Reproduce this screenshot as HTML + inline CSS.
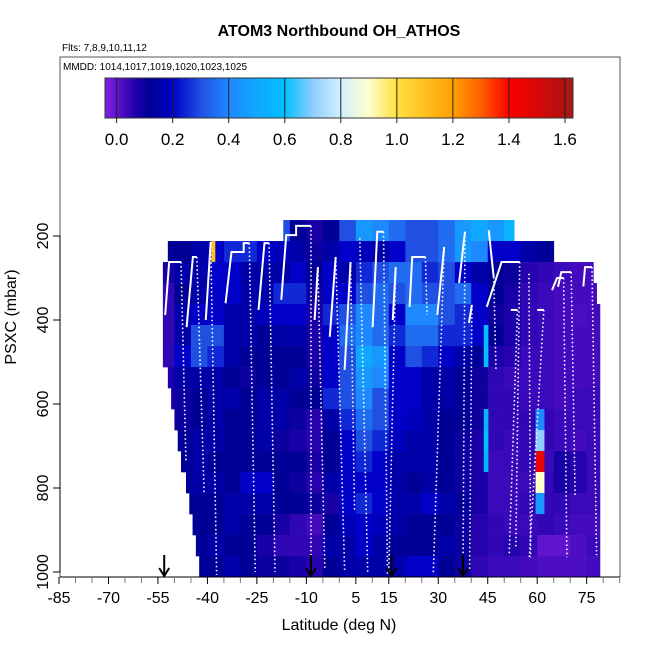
<!DOCTYPE html>
<html><head><meta charset="utf-8"><style>
body{margin:0;background:#fff;font-family:"Liberation Sans",sans-serif}
svg text{font-family:"Liberation Sans",sans-serif}
</style></head><body>
<svg id="chart" width="650" height="650" xmlns="http://www.w3.org/2000/svg">
<text x="339" y="36" font-size="16" font-weight="bold" text-anchor="middle">ATOM3 Northbound OH_ATHOS</text>
<text x="62" y="51" font-size="10">Flts: 7,8,9,10,11,12</text>
<g id="cells"></g>
<g id="profiles"></g>
<g id="arrows"></g>
<rect x="60" y="57" width="560" height="520" fill="none" stroke="#555" stroke-width="1"/>
<text x="63" y="70" font-size="10">MMDD: 1014,1017,1019,1020,1023,1025</text>
<g id="cbar"></g>
<g id="xaxis"></g>
<g id="yaxis"></g>
<text x="339" y="630" font-size="16" text-anchor="middle">Latitude (deg N)</text>
<text transform="translate(16,317) rotate(-90)" font-size="16" text-anchor="middle">PSXC (mbar)</text>
</svg>
<script>
const colLats=[-55,-50,-45,-40,-35,-30,-25,-20,-15,-10,-5,0,5,10,15,20,25,30,35,40,45,50,55,60,65,70,75];
const rowP=[187,237,287,337,387,437,487,537,587,637,687,737,787,837,887,937,987];
const rowStart=[-17,-52,-53.5,-53.5,-53.5,-53.5,-53.5,-52,-51,-50,-49,-48,-46.5,-45.5,-44.5,-43.5,-42.5];
const rowEnd=[53,65,77,78,79,79,79,79,79,79,79,79,79,79,79,79,79];
const r0=[0.15,0.15,0.15,0.15,0.15,0.15,0.15,0.3,0.12,0.08,0.12,0.3,0.45,0.4,0.35,0.3,0.3,0.35,0.45,0.5,0.45,0.55,0.5,0.2,0.1,0.1,0.1];
const r1=[0.12,0.12,0.15,0.2,0.25,0.25,0.2,0.18,0.15,0.1,0.15,0.2,0.18,0.15,0.2,0.3,0.3,0.35,0.45,0.4,0.2,0.2,0.15,0.12,0.12,0.1,0.1];
const r2=[0.08,0.15,0.15,0.2,0.2,0.15,0.15,0.15,0.2,0.12,0.2,0.15,0.25,0.3,0.35,0.35,0.25,0.3,0.2,0.15,0.12,0.1,0.06,0.05,0.04,0.03,0.03];
const r3=[0.05,0.12,0.15,0.2,0.2,0.15,0.15,0.25,0.25,0.1,0.2,0.2,0.3,0.35,0.3,0.35,0.3,0.3,0.35,0.2,0.12,0.08,0.05,0.04,0.03,0.03,0.03];
const r4=[0.05,0.15,0.2,0.2,0.15,0.15,0.18,0.2,0.2,0.08,0.25,0.3,0.4,0.35,0.2,0.4,0.4,0.3,0.25,0.2,0.1,0.07,0.05,0.04,0.03,0.02,0.03];
const r5=[0.05,0.15,0.3,0.3,0.15,0.15,0.12,0.15,0.15,0.08,0.2,0.35,0.4,0.35,0.25,0.35,0.35,0.25,0.25,0.2,0.12,0.07,0.05,0.04,0.03,0.03,0.03];
const r6=[0.05,0.2,0.3,0.25,0.15,0.12,0.12,0.12,0.12,0.08,0.2,0.3,0.5,0.45,0.2,0.3,0.25,0.2,0.15,0.12,0.07,0.06,0.04,0.04,0.03,0.03,0.03];
const r7=[0.07,0.15,0.15,0.15,0.12,0.1,0.12,0.12,0.15,0.1,0.2,0.3,0.45,0.4,0.2,0.2,0.15,0.15,0.12,0.1,0.05,0.04,0.04,0.04,0.03,0.03,0.03];
const r8=[0.08,0.1,0.12,0.15,0.15,0.12,0.15,0.15,0.12,0.12,0.25,0.3,0.4,0.3,0.2,0.2,0.15,0.15,0.12,0.1,0.05,0.05,0.04,0.04,0.03,0.04,0.04];
const r9=[0.1,0.1,0.12,0.15,0.12,0.12,0.15,0.15,0.1,0.06,0.15,0.25,0.35,0.3,0.2,0.18,0.15,0.12,0.12,0.1,0.05,0.05,0.05,0.05,0.04,0.04,0.04];
const r10=[0.1,0.12,0.15,0.15,0.12,0.12,0.15,0.1,0.08,0.06,0.12,0.2,0.3,0.25,0.18,0.15,0.15,0.12,0.1,0.08,0.05,0.04,0.05,0.05,0.04,0.03,0.04];
const r11=[0.1,0.12,0.15,0.12,0.12,0.12,0.12,0.12,0.12,0.08,0.12,0.2,0.25,0.2,0.15,0.15,0.15,0.12,0.1,0.08,0.04,0.04,0.05,0.04,0.08,0.06,0.04];
const r12=[0.12,0.12,0.15,0.15,0.12,0.2,0.2,0.12,0.1,0.06,0.15,0.2,0.2,0.2,0.15,0.12,0.15,0.12,0.1,0.08,0.04,0.04,0.04,0.05,0.08,0.06,0.04];
const r13=[0.12,0.12,0.12,0.12,0.15,0.15,0.15,0.12,0.12,0.1,0.08,0.2,0.25,0.2,0.15,0.15,0.2,0.15,0.12,0.08,0.04,0.04,0.05,0.05,0.05,0.04,0.04];
const r14=[0.1,0.12,0.12,0.12,0.15,0.12,0.12,0.08,0.05,0.03,0.12,0.18,0.2,0.18,0.15,0.12,0.12,0.12,0.1,0.06,0.05,0.04,0.04,0.05,0.04,0.03,0.03];
const r15=[0.12,0.12,0.12,0.15,0.12,0.12,0.08,0.05,0.05,0.05,0.15,0.15,0.2,0.15,0.12,0.12,0.12,0.15,0.1,0.06,0.05,0.06,0.05,0.0,0.0,0.02,0.04];
const r16=[0.12,0.12,0.12,0.12,0.15,0.12,0.1,0.1,0.08,0.06,0.12,0.15,0.15,0.15,0.15,0.2,0.2,0.12,0.1,0.05,0.04,0.04,0.03,0.02,0.02,0.02,0.03];
const grid=[r0,r1,r2,r3,r4,r5,r6,r7,r8,r9,r10,r11,r12,r13,r14,r15,r16];
// narrow high-value stripes: lat0, lat1, row index, value
const stripeLat0=[-38.8,59.5,59.5,59.5,59.5,59.5,43.8,43.8,43.8,43.8,43.8];
const stripeLat1=[-37.6,62.2,62.2,62.2,62.2,62.2,45.2,45.2,45.2,45.2,45.2];
const stripeRow=[1,9,10,11,12,13,5,6,9,10,11];
const stripeVal=[1.1,0.4,0.7,1.45,0.9,0.45,0.6,0.6,0.55,0.6,0.55];
// flight profiles: solid ascent points then dotted descent [lat,p]
const solidLegs=[
 [[-52.8,388],[-51.6,262],[-48,262]],
 [[-46.3,417],[-44.4,250],[-43.2,250]],
 [[-40.5,400],[-39,214]],
 [[-34.5,360],[-32.7,238],[-29,238],[-29,217],[-27.3,217]],
 [[-24.5,376],[-22.7,217],[-21.3,217]],
 [[-17.6,352],[-16.1,198],[-13.1,198],[-13.1,176],[-8.6,176]],
 [[-7.5,400],[-6.5,274]],
 [[-2.9,440],[-1.1,250]],
 [[1.6,519],[3.4,262]],
 [[10.1,417],[11.5,190],[13.4,190]],
 [[16.2,400],[17.1,274]],
 [[21.3,369],[22.1,250],[26.1,250]],
 [[29.7,388],[31.8,226]],
 [[36.3,312],[38.1,190]],
 [[45.3,186],[46.8,298]],
 [[44.7,369],[49.2,262],[54.7,262]],
 [[39.3,407],[40.2,364]],
 [[52,376],[54,376]],
 [[60,376],[62,376]],
 [[64.5,329],[66,300],[68,300]],
 [[66.3,321],[67.3,286],[70.3,286]],
 [[74,320],[74.5,274],[76.6,274]]
];
const dotStartLat=[-48,-43.2,-39,-27.3,-21.3,-8.6,-6.5,-1.1,3.4,6.2,13.4,17.1,26.1,31.8,38.1,46.8,54.7,40.2,54,62,68,70.3,76.6,57.5];
const dotStartP=[262,250,214,217,217,176,274,250,262,205,190,274,250,226,190,298,262,364,376,376,300,286,274,290];
const dotEndLat=[-46.5,-41,-37.2,-25.5,-19.5,-8.6,-4.4,1.6,4.6,8.6,14.6,15,26.6,28.5,37.5,47.5,53.5,39.5,51.5,57.6,69,71.5,78,58];
const dotEndP=[740,810,1007,1000,1000,1005,995,995,852,1000,1005,1000,388,1002,1002,520,945,995,960,968,965,821,960,965];
const arrowLats=[-53.1,-8.6,15.8,37.5];
const xTickLabels=[-85,-70,-55,-40,-25,-10,5,15,30,45,60,75];
const yTickLabels=[200,400,600,800,1000];
const cbTicks=[0.0,0.2,0.4,0.6,0.8,1.0,1.2,1.4,1.6];

const NS='http://www.w3.org/2000/svg';
function X(lat){return 59+(lat+85)*3.298;}
function Y(p){return 572+(p-1000)*0.42;}
function CB(v){return 116.6+v*(565-116.6)/1.6;}
const stops=[[-0.04,[128,32,230]],[0.0,[96,20,205]],[0.07,[30,0,170]],[0.12,[0,0,150]],[0.2,[0,0,200]],[0.3,[32,80,225]],[0.4,[30,136,255]],[0.5,[16,168,255]],[0.6,[0,192,255]],[0.7,[144,204,255]],[0.8,[208,240,255]],[0.9,[255,255,204]],[1.0,[255,224,64]],[1.2,[255,160,0]],[1.3,[255,96,0]],[1.4,[255,0,0]],[1.6,[176,16,16]],[1.64,[160,32,32]]];
function col(v){
 if(v<=stops[0][0])return 'rgb('+stops[0][1]+')';
 for(let i=1;i<stops.length;i++){if(v<=stops[i][0]){const a=stops[i-1],b=stops[i],t=(v-a[0])/(b[0]-a[0]);
  return 'rgb('+a[1].map((c,k)=>Math.round(c+(b[1][k]-c)*t)).join(',')+')';}}
 return 'rgb('+stops[stops.length-1][1]+')';
}
function mk(tag,attrs,parent){const e=document.createElementNS(NS,tag);for(const k in attrs)e.setAttribute(k,attrs[k]);parent.appendChild(e);return e;}

const cells=document.getElementById('cells');
grid.forEach((row,ri)=>{
 const yt=Y(rowP[ri]-25),yb=Y(rowP[ri]+25);
 row.forEach((v,ci)=>{
  const l0=Math.max(colLats[ci],rowStart[ri]),l1=Math.min(colLats[ci]+5,rowEnd[ri]);
  if(l1<=l0)return;
  const r=mk('rect',{x:X(l0),y:yt,width:X(l1)-X(l0)+0.4,height:yb-yt+0.3,fill:col(v)},cells);
  
  
 });
});
stripeVal.forEach((v,i)=>{
 const p=rowP[stripeRow[i]];
 const r=mk('rect',{x:X(stripeLat0[i]),y:Y(p-25),width:X(stripeLat1[i])-X(stripeLat0[i]),height:Y(p+25)-Y(p-25),fill:col(v)},cells);
 
 
});
const prof=document.getElementById('profiles');
solidLegs.forEach(leg=>{
 const pl=mk('polyline',{points:leg.map(q=>X(q[0])+','+Y(q[1])).join(' '),fill:'none',stroke:'#fff','stroke-width':2},prof);
 
 
});
dotStartLat.forEach((l,i)=>{
 const ln=mk('line',{x1:X(l),y1:Y(dotStartP[i]),x2:X(dotEndLat[i]),y2:Y(dotEndP[i]),stroke:'#fff','stroke-width':1.6,'stroke-dasharray':'1.5 2.6'},prof);
 
 
});
const arr=document.getElementById('arrows');
arrowLats.forEach(l=>{
 const g=mk('g',{},arr);
 
 
 const x=X(l);
 mk('line',{x1:x,y1:555,x2:x,y2:576,stroke:'#000','stroke-width':2},g);
 mk('polyline',{points:(x-5)+',568 '+x+',576 '+(x+5)+',568',fill:'none',stroke:'#000','stroke-width':2},g);
});
// colorbar
const cb=document.getElementById('cbar');
const cbL=105,cbR=573;
for(let x=cbL;x<cbR;x++){
 const r=mk('rect',{x:x,y:78,width:1.2,height:40,fill:col((x+0.5-116.6)/(565-116.6)*1.6)},cb);
 
 
}
mk('rect',{x:cbL,y:78,width:cbR-cbL,height:40,fill:'none',stroke:'#333','stroke-width':1},cb);
cbTicks.forEach(v=>{
 const x=CB(v);
 const ln=mk('line',{x1:x,y1:78,x2:x,y2:123,stroke:'#222','stroke-width':1},cb);
 
 
 const t=mk('text',{x:x,y:145,'font-size':17,'text-anchor':'middle'},cb);
 t.textContent=v.toFixed(1);
 
 
});
// x axis
const xa=document.getElementById('xaxis');
mk('line',{x1:60,y1:577,x2:620,y2:577,stroke:'#000','stroke-width':1},xa);
for(let l=-85;l<=85;l+=5){
 const major=xTickLabels.indexOf(l)>=0;
 mk('line',{x1:X(l),y1:577,x2:X(l),y2:major?584:583,stroke:major?'#000':'#777','stroke-width':1},xa);
}
xTickLabels.forEach(l=>{
 const t=mk('text',{x:X(l),y:603,'font-size':16,'text-anchor':'middle'},xa);
 t.textContent=String(l);
 
 
});
// y axis
const ya=document.getElementById('yaxis');
mk('line',{x1:60,y1:Y(200),x2:60,y2:Y(1000),stroke:'#000','stroke-width':1},ya);
yTickLabels.forEach(p=>{
 mk('line',{x1:53,y1:Y(p),x2:60,y2:Y(p),stroke:'#000','stroke-width':1},ya);
 const t=mk('text',{transform:'translate(48,'+Y(p)+') rotate(-90)','font-size':16,'text-anchor':'middle'},ya);
 t.textContent=String(p);
 
 
});
</script>
</body></html>
